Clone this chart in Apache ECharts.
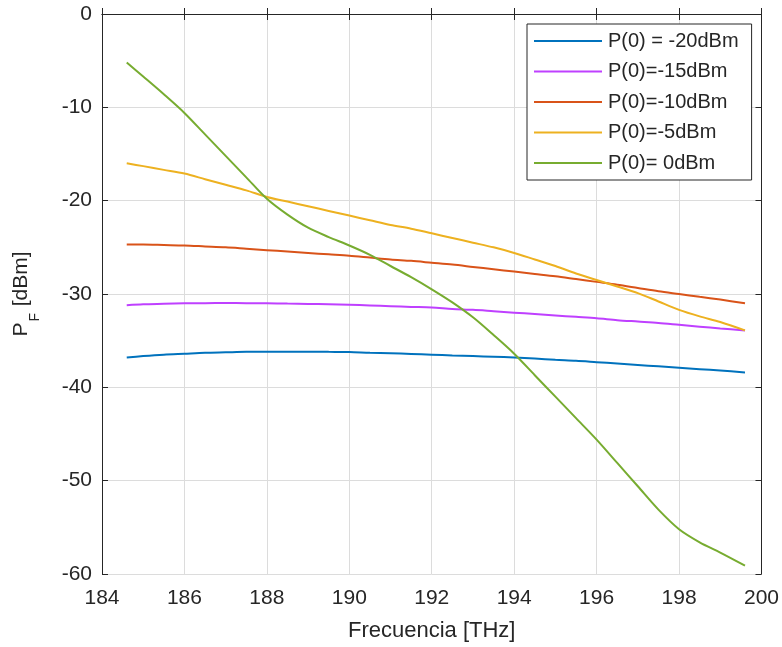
<!DOCTYPE html>
<html>
<head>
<meta charset="utf-8">
<script src="https://cdn.jsdelivr.net/npm/echarts@6/dist/echarts.min.js"></script>
<style>
html,body{margin:0;padding:0;background:#fff;}
#chart{width:782px;height:647px;}
</style>
</head>
<body>
<div id="chart"></div>
<script>
const freq = [184.6,185,185.5,186,186.5,187,187.5,188,188.5,189,189.5,190,190.5,191,191.5,192,192.5,193,193.5,194,194.5,195,195.5,196,196.5,197,197.5,198,198.5,199,199.6];
const p20 = [-36.8,-36.65,-36.5,-36.4,-36.3,-36.25,-36.2,-36.2,-36.18,-36.18,-36.2,-36.22,-36.3,-36.35,-36.42,-36.5,-36.58,-36.65,-36.72,-36.8,-36.92,-37.05,-37.15,-37.3,-37.45,-37.6,-37.75,-37.9,-38.05,-38.2,-38.4];
const p15 = [-31.2,-31.1,-31.05,-31.0,-30.98,-30.97,-30.98,-31.0,-31.03,-31.06,-31.1,-31.15,-31.22,-31.3,-31.38,-31.45,-31.6,-31.7,-31.85,-32.0,-32.15,-32.3,-32.45,-32.6,-32.8,-32.95,-33.1,-33.3,-33.5,-33.7,-33.9];
const p10 = [-24.7,-24.7,-24.75,-24.8,-24.9,-25.0,-25.15,-25.3,-25.45,-25.6,-25.75,-25.9,-26.1,-26.3,-26.45,-26.65,-26.85,-27.1,-27.35,-27.6,-27.85,-28.1,-28.4,-28.7,-29.0,-29.35,-29.7,-30.0,-30.3,-30.6,-31.0];
const p5 = [-16.0,-16.3,-16.7,-17.1,-17.7,-18.3,-18.9,-19.6,-20.1,-20.6,-21.1,-21.6,-22.1,-22.6,-23.0,-23.5,-24.0,-24.5,-25.0,-25.6,-26.3,-27.0,-27.8,-28.5,-29.2,-29.9,-30.8,-31.7,-32.4,-33.0,-33.9];
const p0 = [-5.2,-6.7,-8.6,-10.6,-12.9,-15.2,-17.5,-19.8,-21.5,-22.9,-23.9,-24.8,-25.8,-27.0,-28.2,-29.5,-30.9,-32.5,-34.4,-36.4,-38.7,-41.0,-43.3,-45.6,-48.1,-50.6,-53.1,-55.2,-56.6,-57.7,-59.1];
const seriesNames = ['P(0) = -20dBm','P(0)=-15dBm','P(0)=-10dBm','P(0)=-5dBm','P(0)= 0dBm'];
const seriesData = [p20, p15, p10, p5, p0];
const colors = ['#0072BD','#BF40FF','#D95319','#EDB120','#77AC30'];

const FONT = '"Liberation Sans", Arial, Helvetica, sans-serif';
const TXT = '#262626';

const chart = echarts.init(document.getElementById('chart'), null, {renderer:'canvas'});

const axisLineStyle = {lineStyle:{color:TXT, width:1}};
const option = {
  animation:false,
  backgroundColor:'#fff',
  textStyle:{fontFamily:FONT},
  grid:{left:102, right:19, top:14, bottom:73, containLabel:false},
  legend:{
    orient:'vertical', left:527, top:24,
    data:seriesNames,
    icon:'rect', itemWidth:68, itemHeight:2, itemGap:10.5,
    padding:[7,13,7,7],
    borderColor:TXT, borderWidth:1, backgroundColor:'#fff',
    textStyle:{fontFamily:FONT, fontSize:20, color:TXT, lineHeight:20, padding:[0,0,0,1]}
  },
  xAxis:[{
    type:'value', min:184, max:200, interval:2, position:'bottom',
    name:'Frecuencia [THz]', nameLocation:'middle', nameGap:46,
    nameTextStyle:{fontFamily:FONT, fontSize:22, color:TXT},
    axisLine:axisLineStyle,
    axisTick:{show:true, inside:true, length:6, lineStyle:{color:TXT}},
    axisLabel:{fontFamily:FONT, fontSize:21, color:TXT, margin:14},
    splitLine:{show:true, lineStyle:{color:'#dcdcdc', width:1}}
  },{
    type:'value', min:184, max:200, interval:2, position:'top',
    axisLine:axisLineStyle,
    axisTick:{show:true, inside:true, length:6, lineStyle:{color:TXT}},
    axisLabel:{show:false}, splitLine:{show:false}
  }],
  yAxis:[{
    type:'value', min:-60, max:0, interval:10, position:'left',
    name:'{a|P}{b|F}{a| [dBm]}', nameLocation:'middle', nameGap:67, nameRotate:90,
    nameTextStyle:{
      fontFamily:FONT, color:TXT,
      rich:{
        a:{fontFamily:FONT, fontSize:21, color:TXT, lineHeight:24, verticalAlign:'top'},
        b:{fontFamily:FONT, fontSize:14, color:TXT, lineHeight:14, verticalAlign:'top', padding:[17,1,0,1]}
      }
    },
    axisLine:axisLineStyle,
    axisTick:{show:true, inside:true, length:6, lineStyle:{color:TXT}},
    axisLabel:{fontFamily:FONT, fontSize:21, color:TXT, margin:10},
    splitLine:{show:true, lineStyle:{color:'#dcdcdc', width:1}}
  },{
    type:'value', min:-60, max:0, interval:10, position:'right',
    axisLine:axisLineStyle,
    axisTick:{show:true, inside:true, length:6, lineStyle:{color:TXT}},
    axisLabel:{show:false}, splitLine:{show:false}
  }],
  series: seriesNames.map((n,i)=>({
    name:n, type:'line', xAxisIndex:0, yAxisIndex:0,
    data: freq.map((f,j)=>[f, seriesData[i][j]]),
    showSymbol:false, symbol:'none', smooth:0.3,
    color:colors[i],
    lineStyle:{color:colors[i], width:2},
    z:2+i
  }))
};
chart.setOption(option);
</script>
</body>
</html>
